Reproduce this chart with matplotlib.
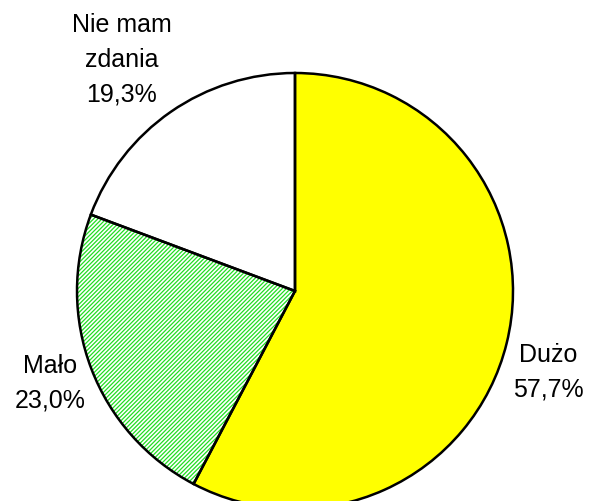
import numpy as np
import matplotlib.pyplot as plt

plt.rcParams['font.family'] = ['Liberation Sans', 'DejaVu Sans']
plt.rcParams['hatch.linewidth'] = 0.9

categories = ['Dużo', 'Mało', 'Nie mam\nzdania']
values = [57.7, 23.0, 19.3]
value_labels = ['57,7%', '23,0%', '19,3%']
fills = ['#ffff00', 'white', 'white']
hatches = [None, '////////', None]

# label placement: radial distance and small angular shift per slice
label_dist = [1.22, 1.2, 1.33]
label_shift = [-3.8, -0.5, 2.0]

fig = plt.figure(figsize=(5.9, 5.02), dpi=100)
ax = fig.add_axes([0, 0, 1, 1])

# base fill (with green hatch on "Mało")
wedges, _ = ax.pie(values, startangle=90, counterclock=False, colors=fills,
                   wedgeprops=dict(linewidth=0))
for w, h in zip(wedges, hatches):
    if h:
        w.set_hatch(h)
        w.set_edgecolor('#22dd22')
        w.set_linewidth(0)

# black outlines on top
outl, _ = ax.pie(values, startangle=90, counterclock=False,
                 wedgeprops=dict(fill=False, edgecolor='black', linewidth=1.8))

for w, cat, lab, d, s in zip(wedges, categories, value_labels, label_dist, label_shift):
    ang = np.deg2rad((w.theta1 + w.theta2) / 2 + s)
    ax.text(d * np.cos(ang), d * np.sin(ang), cat + '\n' + lab,
            ha='center', va='center', fontsize=18, linespacing=1.55)

ax.set_aspect('equal')
ax.set_xlim(-295 / 218, 295 / 218)
ax.set_ylim(-210 / 218, 292 / 218)
ax.axis('off')

fig.savefig('out.png', dpi=100)
